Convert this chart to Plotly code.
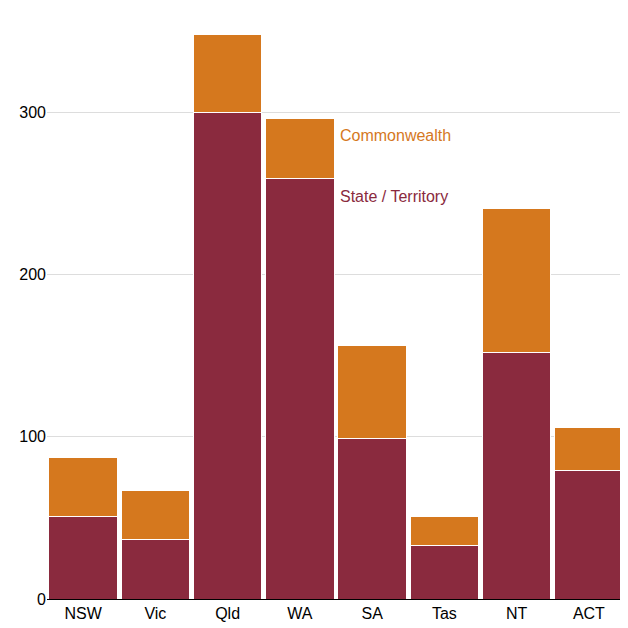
import plotly.graph_objects as go

states = ["NSW", "Vic", "Qld", "WA", "SA", "Tas", "NT", "ACT"]
state_territory = [50.6, 36.4, 300, 259, 98.8, 33, 152, 79]
commonwealth = [36.4, 30.6, 48, 37, 57.2, 17.6, 89, 26.6]

ORANGE = "#D5781E"
MAROON = "#8A2A3E"

fig = go.Figure()
fig.add_bar(x=states, y=state_territory, marker=dict(color=MAROON, line=dict(color="white", width=1)), name="State / Territory")
fig.add_bar(x=states, y=commonwealth, marker=dict(color=ORANGE, line=dict(color="white", width=1)), name="Commonwealth")

fig.add_annotation(x=3.5, y=286, xref="x", yref="y", text="Commonwealth", showarrow=False,
                   xanchor="left", xshift=2, font=dict(color=ORANGE, size=16))
fig.add_annotation(x=3.5, y=248, xref="x", yref="y", text="State / Territory", showarrow=False,
                   xanchor="left", xshift=2, font=dict(color=MAROON, size=16))

fig.update_layout(
    barmode="stack", bargap=0.05, showlegend=False,
    width=628, height=628,
    margin=dict(l=32, r=11, t=12, b=37),
    plot_bgcolor="white", paper_bgcolor="white",
    font=dict(family="Liberation Sans, Arial, sans-serif", size=16, color="black"),
    xaxis=dict(showline=True, linecolor="black", linewidth=1, ticks="", tickfont=dict(size=16)),
    yaxis=dict(range=[0, 357], tickvals=[0, 100, 200, 300], showgrid=True, gridcolor="#dddddd",
               zeroline=False, ticks="", tickfont=dict(size=16)),
)
fig.write_html("out.html")
